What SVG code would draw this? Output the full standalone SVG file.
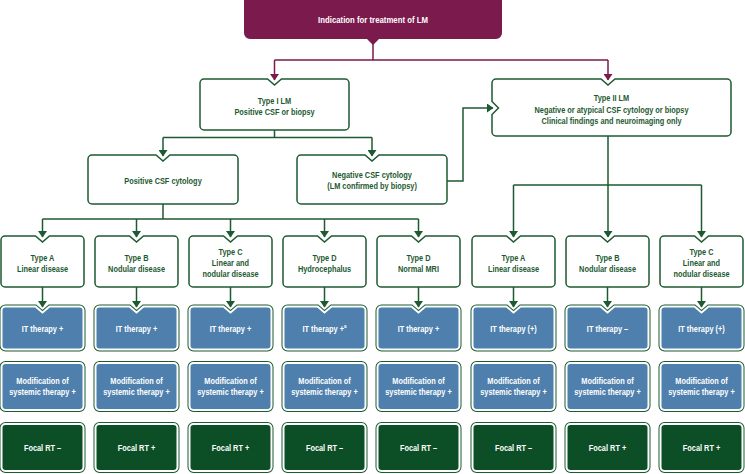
<svg xmlns="http://www.w3.org/2000/svg" xmlns:xlink="http://www.w3.org/1999/xlink" width="745" height="474" viewBox="0 0 745 474">
<style>
.t{font-family:"Liberation Sans",Arial,sans-serif;font-size:9px;font-weight:bold;text-anchor:middle;fill:#1d5a31;transform-box:fill-box;transform-origin:center;transform:scaleX(0.82)}
.w{fill:#ffffff}
.box{fill:#ffffff;stroke:#1d5a31;stroke-width:1.5}
.ob{fill:none;stroke:#1d5a31;stroke-width:4}
.blue{fill:#4f7fad;stroke:#ffffff;stroke-width:2}
.dg{fill:#0c4f27;stroke:#ffffff;stroke-width:2}
.gc{fill:none;stroke:#1d5a31;stroke-width:1.5}
.pc{fill:none;stroke:#7b1a4c;stroke-width:1.5}
</style>
<defs>
<marker id="ag" markerUnits="userSpaceOnUse" markerWidth="8" markerHeight="9" viewBox="0 0 8 9" refX="6" refY="4.5" orient="auto"><path d="M0,0 L6.5,4.5 L0,9 Z" fill="#1d5a31"/></marker>
<marker id="ap" markerUnits="userSpaceOnUse" markerWidth="8" markerHeight="9" viewBox="0 0 8 9" refX="6" refY="4.5" orient="auto"><path d="M0,0 L6.5,4.5 L0,9 Z" fill="#7b1a4c"/></marker>
<path id="tb" d="M4,0 H34.5 L41.5,6 L48.5,0 H79 A4,4 0 0 1 83,4 V47 A4,4 0 0 1 79,51 H4 A4,4 0 0 1 0,47 V4 A4,4 0 0 1 4,0 Z"/>
<path id="itp" d="M4,0 H34 L41,6 L48,0 H78 A4,4 0 0 1 82,4 V39 A4,4 0 0 1 78,43 H4 A4,4 0 0 1 0,39 V4 A4,4 0 0 1 4,0 Z"/>
<rect id="rp" x="0" y="0" width="82" height="47" rx="4"/>
<g id="itb"><use xlink:href="#itp" class="ob"/><use xlink:href="#itp" class="blue"/></g>
<g id="mb"><use xlink:href="#rp" class="ob"/><use xlink:href="#rp" class="blue"/></g>
<g id="fb"><use xlink:href="#rp" class="ob"/><use xlink:href="#rp" class="dg"/></g>
</defs>

<g id="connectors">
<path class="pc" d="M373,44 V60 M274.5,60 H608"/>
<path class="pc" d="M274.5,60 V80" marker-end="url(#ap)"/>
<path class="pc" d="M608,60 V80" marker-end="url(#ap)"/>
<path class="gc" d="M274.5,130 V137.5 M163,137.5 H372"/>
<path class="gc" d="M163,137.5 V156" marker-end="url(#ag)"/>
<path class="gc" d="M372,137.5 V156" marker-end="url(#ag)"/>
<path class="gc" d="M163,204 V219 M42.5,219 H418.5"/>
<path class="gc" d="M42.5,219 V237" marker-end="url(#ag)"/>
<path class="gc" d="M136.5,219 V237" marker-end="url(#ag)"/>
<path class="gc" d="M230.5,219 V237" marker-end="url(#ag)"/>
<path class="gc" d="M324.5,219 V237" marker-end="url(#ag)"/>
<path class="gc" d="M418.5,219 V237" marker-end="url(#ag)"/>
<path class="gc" d="M447,181 H463 V108 H493" marker-end="url(#ag)"/>
<path class="gc" d="M608,136 V185 M513.5,185 H701.5"/>
<path class="gc" d="M513.5,185 V237" marker-end="url(#ag)"/>
<path class="gc" d="M608,185 V237" marker-end="url(#ag)"/>
<path class="gc" d="M701.5,185 V237" marker-end="url(#ag)"/>
<path class="gc" d="M42.5,287 V307" marker-end="url(#ag)"/>
<path class="gc" d="M136.5,287 V307" marker-end="url(#ag)"/>
<path class="gc" d="M230.5,287 V307" marker-end="url(#ag)"/>
<path class="gc" d="M324.5,287 V307" marker-end="url(#ag)"/>
<path class="gc" d="M418.5,287 V307" marker-end="url(#ag)"/>
<path class="gc" d="M513.5,287 V307" marker-end="url(#ag)"/>
<path class="gc" d="M607.5,287 V307" marker-end="url(#ag)"/>
<path class="gc" d="M701.5,287 V307" marker-end="url(#ag)"/>
</g>

<g id="n-top">
<path d="M244,-6 H502 V33 A6,6 0 0 1 496,39 H379 L373,45 L367,39 H250 A6,6 0 0 1 244,33 Z" fill="#7b1a4c"/>
<text class="t w" x="373" y="23" style="font-size:9.5px">Indication for treatment of LM</text>
</g>

<g id="n-type1">
<path class="box" d="M204,79 H267.5 L274.5,85 L281.5,79 H345 A4,4 0 0 1 349,83 V126 A4,4 0 0 1 345,130 H204 A4,4 0 0 1 200,126 V83 A4,4 0 0 1 204,79 Z"/>
<text class="t" x="274.5" y="104">Type I LM</text>
<text class="t" x="274.5" y="115.5">Positive CSF or biopsy</text>
</g>

<g id="n-type2">
<path class="box" d="M496,79 H601 L608,85 L615,79 H727 A4,4 0 0 1 731,83 V132 A4,4 0 0 1 727,136 H496 A4,4 0 0 1 492,132 V114.5 L498.5,108 L492,101.5 V83 A4,4 0 0 1 496,79 Z"/>
<text class="t" x="611.5" y="101.5">Type II LM</text>
<text class="t" x="611.5" y="113">Negative or atypical CSF cytology or biopsy</text>
<text class="t" x="611.5" y="124.5">Clinical findings and neuroimaging only</text>
</g>

<g id="n-poscsf">
<path class="box" d="M92,155 H156 L163,161 L170,155 H234 A4,4 0 0 1 238,159 V200 A4,4 0 0 1 234,204 H92 A4,4 0 0 1 88,200 V159 A4,4 0 0 1 92,155 Z"/>
<text class="t" x="163" y="184.5">Positive CSF cytology</text>
</g>

<g id="n-negcsf">
<path class="box" d="M301,155 H365 L372,161 L379,155 H443 A4,4 0 0 1 447,159 V200 A4,4 0 0 1 443,204 H301 A4,4 0 0 1 297,200 V159 A4,4 0 0 1 301,155 Z"/>
<text class="t" x="372" y="178.5">Negative CSF cytology</text>
<text class="t" x="372" y="189.5">(LM confirmed by biopsy)</text>
</g>

<g id="n-1a"><use xlink:href="#tb" class="box" x="1" y="236"/><text class="t" x="42.5" y="261">Type A</text><text class="t" x="42.5" y="272">Linear disease</text></g>
<g id="n-1b"><use xlink:href="#tb" class="box" x="95" y="236"/><text class="t" x="136.5" y="261">Type B</text><text class="t" x="136.5" y="272">Nodular disease</text></g>
<g id="n-1c"><use xlink:href="#tb" class="box" x="189" y="236"/><text class="t" x="230.5" y="255.5">Type C</text><text class="t" x="230.5" y="266.5">Linear and</text><text class="t" x="230.5" y="277.5">nodular disease</text></g>
<g id="n-1d1"><use xlink:href="#tb" class="box" x="283" y="236"/><text class="t" x="324.5" y="261">Type D</text><text class="t" x="324.5" y="272">Hydrocephalus</text></g>
<g id="n-1d2"><use xlink:href="#tb" class="box" x="377" y="236"/><text class="t" x="418.5" y="261">Type D</text><text class="t" x="418.5" y="272">Normal MRI</text></g>
<g id="n-2a"><use xlink:href="#tb" class="box" x="472" y="236"/><text class="t" x="513.5" y="261">Type A</text><text class="t" x="513.5" y="272">Linear disease</text></g>
<g id="n-2b"><use xlink:href="#tb" class="box" x="566" y="236"/><text class="t" x="607.5" y="261">Type B</text><text class="t" x="607.5" y="272">Nodular disease</text></g>
<g id="n-2c"><use xlink:href="#tb" class="box" x="660" y="236"/><text class="t" x="701.5" y="255.5">Type C</text><text class="t" x="701.5" y="266.5">Linear and</text><text class="t" x="701.5" y="277.5">nodular disease</text></g>

<g id="it-1a"><use xlink:href="#itb" x="1.5" y="306.5"/><text class="t w" x="42.5" y="332">IT therapy +</text></g>
<g id="it-1b"><use xlink:href="#itb" x="95.5" y="306.5"/><text class="t w" x="136.5" y="332">IT therapy +</text></g>
<g id="it-1c"><use xlink:href="#itb" x="189.5" y="306.5"/><text class="t w" x="230.5" y="332">IT therapy +</text></g>
<g id="it-1d1"><use xlink:href="#itb" x="283.5" y="306.5"/><text class="t w" x="324.5" y="332">IT therapy +<tspan dy="-3.5" style="font-size:5.5px">a</tspan></text></g>
<g id="it-1d2"><use xlink:href="#itb" x="377.5" y="306.5"/><text class="t w" x="418.5" y="332">IT therapy +</text></g>
<g id="it-2a"><use xlink:href="#itb" x="472.5" y="306.5"/><text class="t w" x="513.5" y="332">IT therapy (+)</text></g>
<g id="it-2b"><use xlink:href="#itb" x="566.5" y="306.5"/><text class="t w" x="607.5" y="332">IT therapy –</text></g>
<g id="it-2c"><use xlink:href="#itb" x="660.5" y="306.5"/><text class="t w" x="701.5" y="332">IT therapy (+)</text></g>

<g id="mod-1a"><use xlink:href="#mb" x="1.5" y="363"/><text class="t w" x="42.5" y="384">Modification of</text><text class="t w" x="42.5" y="395.5">systemic therapy +</text></g>
<g id="mod-1b"><use xlink:href="#mb" x="95.5" y="363"/><text class="t w" x="136.5" y="384">Modification of</text><text class="t w" x="136.5" y="395.5">systemic therapy +</text></g>
<g id="mod-1c"><use xlink:href="#mb" x="189.5" y="363"/><text class="t w" x="230.5" y="384">Modification of</text><text class="t w" x="230.5" y="395.5">systemic therapy +</text></g>
<g id="mod-1d1"><use xlink:href="#mb" x="283.5" y="363"/><text class="t w" x="324.5" y="384">Modification of</text><text class="t w" x="324.5" y="395.5">systemic therapy +</text></g>
<g id="mod-1d2"><use xlink:href="#mb" x="377.5" y="363"/><text class="t w" x="418.5" y="384">Modification of</text><text class="t w" x="418.5" y="395.5">systemic therapy +</text></g>
<g id="mod-2a"><use xlink:href="#mb" x="472.5" y="363"/><text class="t w" x="513.5" y="384">Modification of</text><text class="t w" x="513.5" y="395.5">systemic therapy +</text></g>
<g id="mod-2b"><use xlink:href="#mb" x="566.5" y="363"/><text class="t w" x="607.5" y="384">Modification of</text><text class="t w" x="607.5" y="395.5">systemic therapy +</text></g>
<g id="mod-2c"><use xlink:href="#mb" x="660.5" y="363"/><text class="t w" x="701.5" y="384">Modification of</text><text class="t w" x="701.5" y="395.5">systemic therapy +</text></g>

<g id="rt-1a"><use xlink:href="#fb" x="1.5" y="424"/><text class="t w" x="42.5" y="451">Focal RT –</text></g>
<g id="rt-1b"><use xlink:href="#fb" x="95.5" y="424"/><text class="t w" x="136.5" y="451">Focal RT +</text></g>
<g id="rt-1c"><use xlink:href="#fb" x="189.5" y="424"/><text class="t w" x="230.5" y="451">Focal RT +</text></g>
<g id="rt-1d1"><use xlink:href="#fb" x="283.5" y="424"/><text class="t w" x="324.5" y="451">Focal RT –</text></g>
<g id="rt-1d2"><use xlink:href="#fb" x="377.5" y="424"/><text class="t w" x="418.5" y="451">Focal RT –</text></g>
<g id="rt-2a"><use xlink:href="#fb" x="472.5" y="424"/><text class="t w" x="513.5" y="451">Focal RT –</text></g>
<g id="rt-2b"><use xlink:href="#fb" x="566.5" y="424"/><text class="t w" x="607.5" y="451">Focal RT +</text></g>
<g id="rt-2c"><use xlink:href="#fb" x="660.5" y="424"/><text class="t w" x="701.5" y="451">Focal RT +</text></g>
</svg>
